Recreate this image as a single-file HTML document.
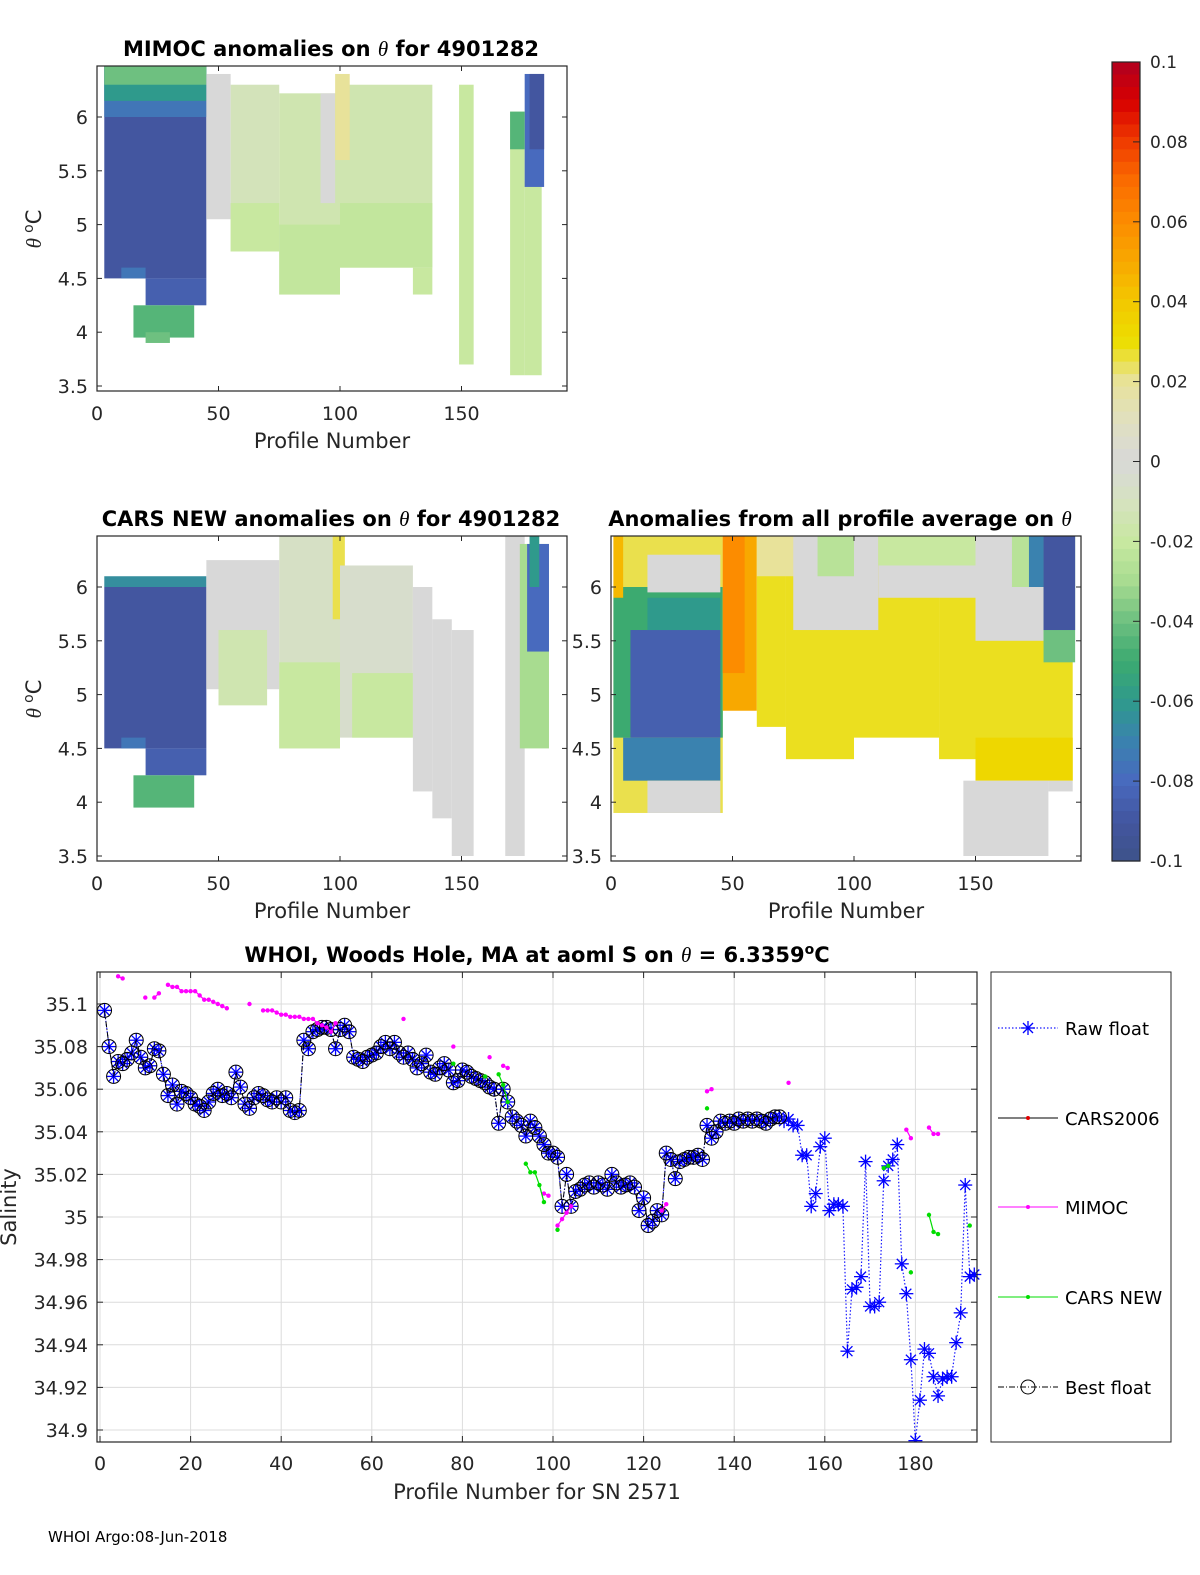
<!DOCTYPE html>
<html><head><meta charset="utf-8"><style>
body{margin:0;background:#fff;}
svg{display:block;font-family:"DejaVu Sans","Liberation Sans",sans-serif;}
</style></head><body>
<svg id="fig" width="1200" height="1575" viewBox="0 0 1200 1575" xmlns="http://www.w3.org/2000/svg">
<rect x="0" y="0" width="1200" height="1575" fill="#fff"/>
<g id="p1"></g>
<g id="p2"></g>
<g id="p3"></g>
<g id="cb"></g>
<g id="p4"></g>
<text x="48" y="1542" font-size="15" fill="#000">WHOI Argo:08-Jun-2018</text>
</svg>
<script>
// ---------- heatmap data: [profileStart, profileEnd, thetaLow, thetaHigh, anomaly]
const mimocBlocks = [
[3,45,4.5,6.47,-0.09],[3,45,6.0,6.47,-0.075],[3,45,6.15,6.47,-0.06],[3,45,6.3,6.47,-0.04],
[20,45,4.25,4.5,-0.085],[10,20,4.5,4.6,-0.075],[15,40,3.95,4.25,-0.045],[20,30,3.9,4.0,-0.04],
[45,55,5.05,6.4,0],[55,75,4.75,6.3,-0.012],[55,75,4.75,5.2,-0.02],
[75,100,4.35,6.22,-0.015],[75,100,4.35,5.0,-0.022],[100,138,4.6,6.3,-0.015],[100,138,4.6,5.2,-0.022],
[92,98,5.2,6.22,0],[98,104,5.6,6.4,0.02],[130,138,4.35,4.6,-0.02],
[149,155,3.7,6.3,-0.02],[170,176,3.6,6.05,-0.02],[176,183,3.6,5.4,-0.02],
[176,184,5.35,6.4,-0.08],[178,184,5.7,6.4,-0.09],[170,176,5.7,6.05,-0.045]
];
const carsBlocks = [
[3,45,4.5,6.0,-0.09],[3,45,6.0,6.1,-0.065],[10,20,4.5,4.6,-0.075],[20,45,4.25,4.5,-0.085],
[15,40,3.95,4.25,-0.045],[45,75,5.05,6.25,0],[50,70,4.9,5.6,-0.015],
[75,100,4.5,6.47,-0.008],[75,100,4.5,5.3,-0.02],[97,102,5.7,6.47,0.025],
[100,130,4.6,6.2,-0.005],[105,130,4.6,5.2,-0.02],[130,138,4.1,6.0,0],[138,146,3.85,5.7,0],
[146,155,3.5,5.6,0],[168,176,3.5,6.47,0],[174,186,4.5,6.4,-0.03],[177,186,5.4,6.4,-0.08],[178,182,6.0,6.47,-0.06]
];
const anomBlocks = [
[1,46,3.9,6.47,0.025],[1,46,4.6,6.0,-0.05],[8,45,4.6,5.6,-0.085],[15,45,5.6,5.9,-0.06],
[15,45,5.95,6.3,0],[1,5,5.9,6.47,0.045],[5,45,4.2,4.6,-0.07],[15,45,3.9,4.2,0],
[46,60,4.85,6.47,0.05],[46,55,5.2,6.47,0.06],
[60,72,4.7,6.47,0.028],[72,100,4.4,6.47,0.028],[100,135,4.6,6.47,0.028],[135,150,4.4,6.47,0.028],[150,190,4.2,6.47,0.028],
[150,190,4.2,4.6,0.033],[60,100,6.1,6.47,0.02],[75,110,5.6,6.47,0],[85,100,6.1,6.47,-0.025],
[110,150,5.9,6.47,0],[110,150,6.2,6.47,-0.02],[150,178,5.5,6.47,0],[165,178,6.0,6.47,-0.025],
[172,178,6.0,6.47,-0.07],[178,191,5.3,6.47,-0.04],[178,191,5.6,6.47,-0.09],
[145,180,3.5,4.2,0],[180,190,4.1,4.2,0]
];
const thetaTicks = [3.5,4,4.5,5,5.5,6];
const profileTicks = [0,50,100,150];
const cbTicks = [0.1,0.08,0.06,0.04,0.02,0,-0.02,-0.04,-0.06,-0.08,-0.1];

// ---------- salinity data
const rawS = [35.097,35.080,35.066,35.073,35.072,35.074,35.077,35.083,35.075,35.070,35.071,35.079,35.078,35.067,35.057,35.062,35.053,35.059,35.058,35.056,
35.053,35.052,35.050,35.054,35.058,35.060,35.057,35.058,35.056,35.068,35.061,35.053,35.051,35.056,35.058,35.057,35.055,35.054,35.056,35.054,
35.056,35.050,35.049,35.050,35.083,35.079,35.087,35.088,35.089,35.089,35.088,35.079,35.088,35.090,35.087,35.075,35.074,35.073,35.075,35.076,
35.077,35.080,35.082,35.079,35.082,35.077,35.075,35.077,35.074,35.070,35.072,35.076,35.068,35.067,35.070,35.072,35.069,35.063,35.064,35.069,
35.068,35.066,35.065,35.064,35.063,35.061,35.060,35.044,35.060,35.054,35.047,35.045,35.043,35.038,35.045,35.042,35.038,35.034,35.030,35.030,
35.028,35.005,35.020,35.005,35.012,35.013,35.015,35.016,35.014,35.016,35.015,35.013,35.020,35.016,35.014,35.015,35.016,35.014,35.003,35.009,
34.996,34.998,35.003,35.001,35.030,35.027,35.018,35.026,35.027,35.028,35.028,35.029,35.027,35.043,35.037,35.040,35.045,35.044,35.045,35.044,
35.046,35.045,35.046,35.045,35.046,35.045,35.044,35.046,35.047,35.047,35.045,35.046,35.043,35.043,35.029,35.029,35.005,35.011,35.033,35.037,
35.003,35.006,35.006,35.005,34.937,34.966,34.967,34.972,35.026,34.958,34.958,34.960,35.017,35.024,35.027,35.034,34.978,34.964,34.933,34.895,
34.914,34.938,34.936,34.925,34.916,34.924,34.925,34.925,34.941,34.955,35.015,34.972,34.973];
const bestCount = 150;
const mimocP = [4,5,10,12,13,15,16,17,18,19,20,21,22,23,24,25,26,27,28,33,36,37,38,39,40,41,42,43,44,45,46,47,48,49,50,51,52,67,78,86,89,90,98,99,101,102,103,104,124,125,134,135,152,178,179,183,184,185];
const mimocS = [35.113,35.112,35.103,35.103,35.105,35.109,35.108,35.108,35.106,35.106,35.106,35.106,35.104,35.102,35.102,35.101,35.100,35.099,35.098,35.100,35.097,35.097,35.097,35.096,35.095,35.095,35.094,35.094,35.094,35.093,35.093,35.093,35.091,35.090,35.089,35.087,35.091,35.093,35.080,35.075,35.071,35.070,35.011,35.010,34.996,34.999,35.002,35.005,35.003,35.006,35.059,35.060,35.063,35.041,35.037,35.042,35.039,35.039];
const carsP = [78,85,88,89,90,94,95,96,97,98,101,134,173,174,179,183,184,185,192];
const carsS = [35.072,35.066,35.067,35.062,35.054,35.025,35.021,35.021,35.015,35.007,34.994,35.051,35.023,35.024,34.974,35.001,34.993,34.992,34.996];
const xTicksS = [0,20,40,60,80,100,120,140,160,180];
const yTicksS = [34.9,34.92,34.94,34.96,34.98,35,35.02,35.04,35.06,35.08,35.1];

const NS='http://www.w3.org/2000/svg';
function mk(parent,tag,attrs,text){const e=document.createElementNS(NS,tag);for(const k in attrs)e.setAttribute(k,attrs[k]);if(text!==undefined)e.textContent=text;parent.appendChild(e);return e;}

const stops=[[-0.1,[61,83,137]],[-0.09,[67,86,160]],[-0.08,[72,106,190]],[-0.07,[58,130,175]],[-0.06,[47,154,140]],[-0.05,[60,170,112]],[-0.04,[110,192,128]],[-0.03,[168,220,144]],[-0.02,[200,232,160]],[-0.01,[214,226,192]],[0,[216,216,216]],[0.01,[224,224,192]],[0.02,[232,226,154]],[0.03,[236,222,0]],[0.04,[243,200,0]],[0.05,[248,168,0]],[0.06,[252,140,0]],[0.07,[250,108,0]],[0.08,[240,60,0]],[0.09,[216,0,0]],[0.1,[176,0,32]]];
function cmap(v){v=Math.max(-0.1,Math.min(0.1,v));for(let i=0;i<stops.length-1;i++){const a=stops[i],b=stops[i+1];if(v<=b[0]){const t=(v-a[0])/(b[0]-a[0]);const c=a[1].map((x,j)=>Math.round(x+(b[1][j]-x)*t));return `rgb(${c[0]},${c[1]},${c[2]})`;}}return 'rgb(176,0,32)';}

function titleText(g,x,y,before,after,nm){
  const t=mk(g,'text',{x:x,y:y,'text-anchor':'middle','font-size':21,'font-weight':'bold',fill:'#000'});
  
  mk(t,'tspan',{},before);
  mk(t,'tspan',{'font-family':'"Liberation Serif",serif','font-style':'italic','font-weight':'normal'},'θ');
  mk(t,'tspan',{},after);
  return t;
}

function heatPanel(g,ox,oy,blocks,before,after,titleX,showYlab,name){
  const x0=ox,x1=ox+470,yT=oy,yB=oy+325;
  const X=p=>ox+p*2.43;
  const Y=t=>oy+51+(6-t)*107.6;
  const clipId='clip'+name;
  const cp=mk(g,'clipPath',{id:clipId});mk(cp,'rect',{x:x0,y:yT,width:470,height:325});
  const hg=mk(g,'g',{'clip-path':`url(#${clipId})`});
  blocks.forEach(b=>{
    const r=mk(hg,'rect',{x:X(b[0]),y:Y(b[3]),width:X(b[1])-X(b[0]),height:Y(b[2])-Y(b[3]),fill:cmap(b[4])});
    
    
  });
  mk(g,'rect',{x:x0,y:yT,width:470,height:325,fill:'none',stroke:'#262626','stroke-width':1.2,});
  thetaTicks.forEach(t=>{const y=Y(t);mk(g,'line',{x1:x0,y1:y,x2:x0+5,y2:y,stroke:'#262626'});mk(g,'line',{x1:x1,y1:y,x2:x1-5,y2:y,stroke:'#262626'});
    const tx=mk(g,'text',{x:x0-9,y:y+7,'text-anchor':'end','font-size':19,fill:'#262626'},String(t));});
  profileTicks.forEach(p=>{const x=X(p);mk(g,'line',{x1:x,y1:yB,x2:x,y2:yB-5,stroke:'#262626'});mk(g,'line',{x1:x,y1:yT,x2:x,y2:yT+5,stroke:'#262626'});
    const tx=mk(g,'text',{x:x,y:yB+29,'text-anchor':'middle','font-size':19,fill:'#262626'},String(p));});
  mk(g,'text',{x:ox+235,y:yB+57,'text-anchor':'middle','font-size':21,fill:'#262626',},'Profile Number');
  if(showYlab){const yl=mk(g,'text',{transform:`translate(${ox-56},${oy+163}) rotate(-90)`,'text-anchor':'middle','font-size':21,fill:'#262626',});
    mk(yl,'tspan',{'font-family':'"Liberation Serif",serif','font-style':'italic'},'θ ');mk(yl,'tspan',{'font-size':14,dy:-8},'o');mk(yl,'tspan',{dy:8},'C');}
  titleText(g,titleX,oy-10,before,after,'panel-title');
}
heatPanel(document.getElementById('p1'),97,66,mimocBlocks,'MIMOC anomalies on ','  for 4901282',331,true,'a');
heatPanel(document.getElementById('p2'),97,536,carsBlocks,'CARS NEW anomalies on ',' for 4901282',331,true,'b');
heatPanel(document.getElementById('p3'),611,536,anomBlocks,'Anomalies from all profile average on ','',840,false,'c');

// colorbar
(function(){const g=document.getElementById('cb');const top=62,bot=861,n=64;const V=v=>top+(0.1-v)/0.2*(bot-top);
  for(let i=0;i<n;i++){const v=0.1-(i+0.5)*0.2/n;const r=mk(g,'rect',{x:1112,y:top+i*(bot-top)/n,width:28,height:(bot-top)/n+0.6,fill:cmap(v)});}
  mk(g,'rect',{x:1112,y:top,width:28,height:bot-top,fill:'none',stroke:'#262626','stroke-width':1.2});
  cbTicks.forEach(v=>{const y=V(v);mk(g,'line',{x1:1133,y1:y,x2:1140,y2:y,stroke:'#262626'});const t=mk(g,'text',{x:1150,y:y+6,'font-size':17,fill:'#262626'},String(v));});
})();

// salinity chart
(function(){const g=document.getElementById('p4');
  const L=97,R=977,T=972,B=1442;
  const X=p=>100+p*4.53;
  const Y=s=>1004+(35.1-s)/0.02*42.6;
  xTicksS.forEach(p=>{const x=X(p);mk(g,'line',{x1:x,y1:T,x2:x,y2:B,stroke:'#dcdcdc'});
    mk(g,'line',{x1:x,y1:B,x2:x,y2:B-6,stroke:'#262626'});mk(g,'line',{x1:x,y1:T,x2:x,y2:T+6,stroke:'#262626'});
    const t=mk(g,'text',{x:x,y:B+28,'text-anchor':'middle','font-size':19,fill:'#262626'},String(p));});
  yTicksS.forEach(s=>{const y=Y(s);mk(g,'line',{x1:L,y1:y,x2:R,y2:y,stroke:'#dcdcdc'});
    mk(g,'line',{x1:L,y1:y,x2:L+6,y2:y,stroke:'#262626'});mk(g,'line',{x1:R,y1:y,x2:R-6,y2:y,stroke:'#262626'});
    const t=mk(g,'text',{x:L-9,y:y+7,'text-anchor':'end','font-size':19,fill:'#262626'},String(s));});
  const cp=mk(g,'clipPath',{id:'clipS'});mk(cp,'rect',{x:L,y:T-8,width:R-L+8,height:B-T+8});
  const pg=mk(g,'g',{'clip-path':'url(#clipS)'});
  function segLines(P,S,color,w,dash,nm){for(let i=1;i<P.length;i++){if(P[i]-P[i-1]===1){const l=mk(pg,'line',{x1:X(P[i-1]),y1:Y(S[i-1]),x2:X(P[i]),y2:Y(S[i]),stroke:color,'stroke-width':w});if(dash)l.setAttribute('stroke-dasharray',dash);}}}
  let d2='';rawS.forEach((s,i)=>{d2+=(i?'L':'M')+X(i+1).toFixed(1)+','+Y(s).toFixed(1);});
  const rl=mk(pg,'path',{d:d2,fill:'none',stroke:'#1a1aff','stroke-width':1.2,'stroke-dasharray':'1.5 2'});
  rawS.forEach((s,i)=>{const cx=X(i+1),cy=Y(s),r=7;const gg=mk(pg,'g',{stroke:'#0000ff','stroke-width':1.3});
    mk(gg,'line',{x1:cx-r,y1:cy,x2:cx+r,y2:cy});mk(gg,'line',{x1:cx,y1:cy-r,x2:cx,y2:cy+r});mk(gg,'line',{x1:cx-5,y1:cy-5,x2:cx+5,y2:cy+5});mk(gg,'line',{x1:cx-5,y1:cy+5,x2:cx+5,y2:cy-5});});
  let d='';for(let i=0;i<bestCount;i++){d+=(i?'L':'M')+X(i+1).toFixed(1)+','+Y(rawS[i]).toFixed(1);}
  const bl=mk(pg,'path',{d:d,fill:'none',stroke:'#000','stroke-width':1,'stroke-dasharray':'6 2 1 2'});
  for(let i=0;i<bestCount;i++){const c=mk(pg,'circle',{cx:X(i+1),cy:Y(rawS[i]),r:7,fill:'none',stroke:'#000','stroke-width':1});}
  segLines(mimocP,mimocS,'#ff00ff',1.2,null,'mimoc-line');
  mimocP.forEach((p,i)=>{const c=mk(pg,'circle',{cx:X(p),cy:Y(mimocS[i]),r:2.2,fill:'#ff00ff'});});
  segLines(carsP,carsS,'#00dd00',1.2,null,'cars-new-line');
  carsP.forEach((p,i)=>{const c=mk(pg,'circle',{cx:X(p),cy:Y(carsS[i]),r:2.2,fill:'#00dd00'});});
  mk(g,'rect',{x:L,y:T,width:R-L,height:B-T,fill:'none',stroke:'#262626','stroke-width':1.2,});
  mk(g,'text',{x:537,y:1499,'text-anchor':'middle','font-size':21,fill:'#262626',},'Profile Number for SN 2571');
  mk(g,'text',{transform:'translate(16,1207) rotate(-90)','text-anchor':'middle','font-size':21,fill:'#262626',},'Salinity');
  const tt=titleText(g,537,962,'WHOI, Woods Hole, MA at aoml S on ',' = 6.3359','chart-title');
  mk(tt,'tspan',{'font-size':14,dy:-8},'o');mk(tt,'tspan',{'font-size':21,dy:8},'C');
  // legend
  const lg=mk(g,'g',{});
  mk(lg,'rect',{x:991,y:972,width:180,height:470,fill:'#fff',stroke:'#262626','stroke-width':1});
  const items=[['Raw float',1028],['CARS2006',1118],['MIMOC',1207],['CARS NEW',1297],['Best float',1387]];
  items.forEach((it,k)=>{const y=it[1];const e=mk(lg,'g',{});
    const cx=1028;
    if(k===0){mk(e,'line',{x1:998,y1:y,x2:1058,y2:y,stroke:'#1a1aff','stroke-dasharray':'1.5 2','stroke-width':1.2});const gg=mk(e,'g',{stroke:'#0000ff','stroke-width':1.3});mk(gg,'line',{x1:cx-7,y1:y,x2:cx+7,y2:y});mk(gg,'line',{x1:cx,y1:y-7,x2:cx,y2:y+7});mk(gg,'line',{x1:cx-5,y1:y-5,x2:cx+5,y2:y+5});mk(gg,'line',{x1:cx-5,y1:y+5,x2:cx+5,y2:y-5});}
    if(k===1){mk(e,'line',{x1:998,y1:y,x2:1058,y2:y,stroke:'#000'});mk(e,'circle',{cx:cx,cy:y,r:2,fill:'#e00000'});}
    if(k===2){mk(e,'line',{x1:998,y1:y,x2:1058,y2:y,stroke:'#ff00ff'});mk(e,'circle',{cx:cx,cy:y,r:2,fill:'#ff00ff'});}
    if(k===3){mk(e,'line',{x1:998,y1:y,x2:1058,y2:y,stroke:'#00dd00'});mk(e,'circle',{cx:cx,cy:y,r:2,fill:'#00dd00'});}
    if(k===4){mk(e,'line',{x1:998,y1:y,x2:1058,y2:y,stroke:'#000','stroke-dasharray':'6 2 1 2'});mk(e,'circle',{cx:cx,cy:y,r:7,fill:'none',stroke:'#000'});}
    mk(e,'text',{x:1065,y:y+7,'font-size':18,fill:'#000'},it[0]);});
})();
</script>
</body></html>
